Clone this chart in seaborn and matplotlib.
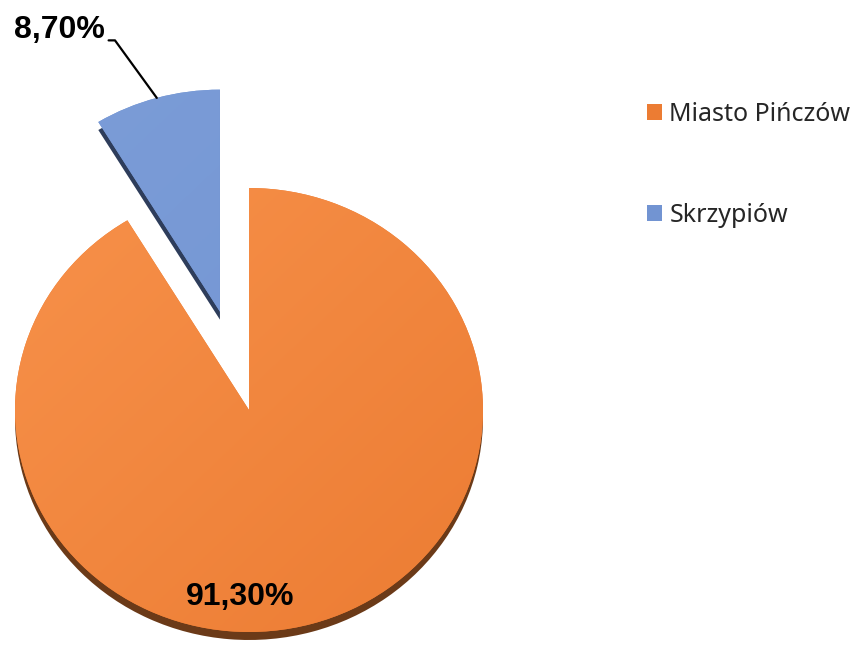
import numpy as np
import seaborn as sns
import matplotlib
matplotlib.use("Agg")
import matplotlib.pyplot as plt
from matplotlib.colors import LinearSegmentedColormap
from matplotlib.patches import Patch

# data
categories = ["Miasto Pińczów", "Skrzypiów"]
shares = [91.30, 8.70]
share_labels = ["91,30%", "8,70%"]
explode = [0.0, 0.46]

face_light = ["#F7914A", "#7C9DD8"]
face_dark = ["#EC7C33", "#7294D2"]
side_colors = ["#6B3A18", "#2E3D5B"]

sns.set_theme(style="white")
plt.rcParams["font.family"] = ["Noto Sans", "DejaVu Sans"]

fig = plt.figure(figsize=(8.51, 6.48), dpi=100)
ax = fig.add_axes([0, 0, 1, 1])

# depth edge: a darker copy of the pie, pushed slightly down
ax.pie(shares, explode=explode, colors=side_colors, startangle=90,
       counterclock=False, center=(0, -0.036),
       wedgeprops=dict(linewidth=0, zorder=1))
wedges, _ = ax.pie(shares, explode=explode, colors=face_dark, startangle=90,
                   counterclock=False, wedgeprops=dict(linewidth=0, zorder=2))

# soft diagonal gradient on each face
grad = np.add.outer(np.linspace(0, 1, 200), np.linspace(0, 1, 200)) / 2
for w, c0, c1 in zip(wedges, face_light, face_dark):
    cx, cy = w.center
    r = w.r
    cmap = LinearSegmentedColormap.from_list("g", [c0, c1])
    im = ax.imshow(grad, cmap=cmap, extent=(cx - r, cx + r, cy - r, cy + r),
                   origin="upper", aspect="auto", zorder=3,
                   interpolation="bilinear")
    im.set_clip_path(w)

label_font = dict(family=["Liberation Sans", "DejaVu Sans"], fontsize=23,
                  fontweight="bold", color="black", zorder=5)

# value labels
ax.text(-0.038, -0.842, share_labels[0], ha="center", va="center", **label_font)

blue = wedges[1]
mid = np.deg2rad((blue.theta1 + blue.theta2) / 2)
arc_pt = (blue.center[0] + blue.r * np.cos(mid),
          blue.center[1] + blue.r * np.sin(mid))
ax.text(-0.615, 1.675, share_labels[1], ha="right", va="baseline", **label_font)
ax.annotate("", xy=arc_pt, xytext=(-0.60, 1.665),
            arrowprops=dict(arrowstyle="-", color="black", lw=1.6,
                            shrinkA=0, shrinkB=0,
                            connectionstyle="angle,angleA=0,angleB=126,rad=0"),
            zorder=5)

# legend
handles = [Patch(facecolor=face_dark[i], edgecolor="none") for i in range(len(categories))]
ax.legend(handles, categories, loc="upper left", bbox_to_anchor=(0.760, 0.843),
          bbox_transform=fig.transFigure, frameon=False, fontsize=18,
          handlelength=0.6, handleheight=0.6, handletextpad=0.3,
          labelspacing=3.05, borderpad=0, borderaxespad=0)

ax.set_xlim(-249 / 234, (851 - 249) / 234)
ax.set_ylim((410 - 648) / 222, 410 / 222)
ax.set_aspect("auto")
ax.axis("off")

fig.savefig("out.png", dpi=100)
